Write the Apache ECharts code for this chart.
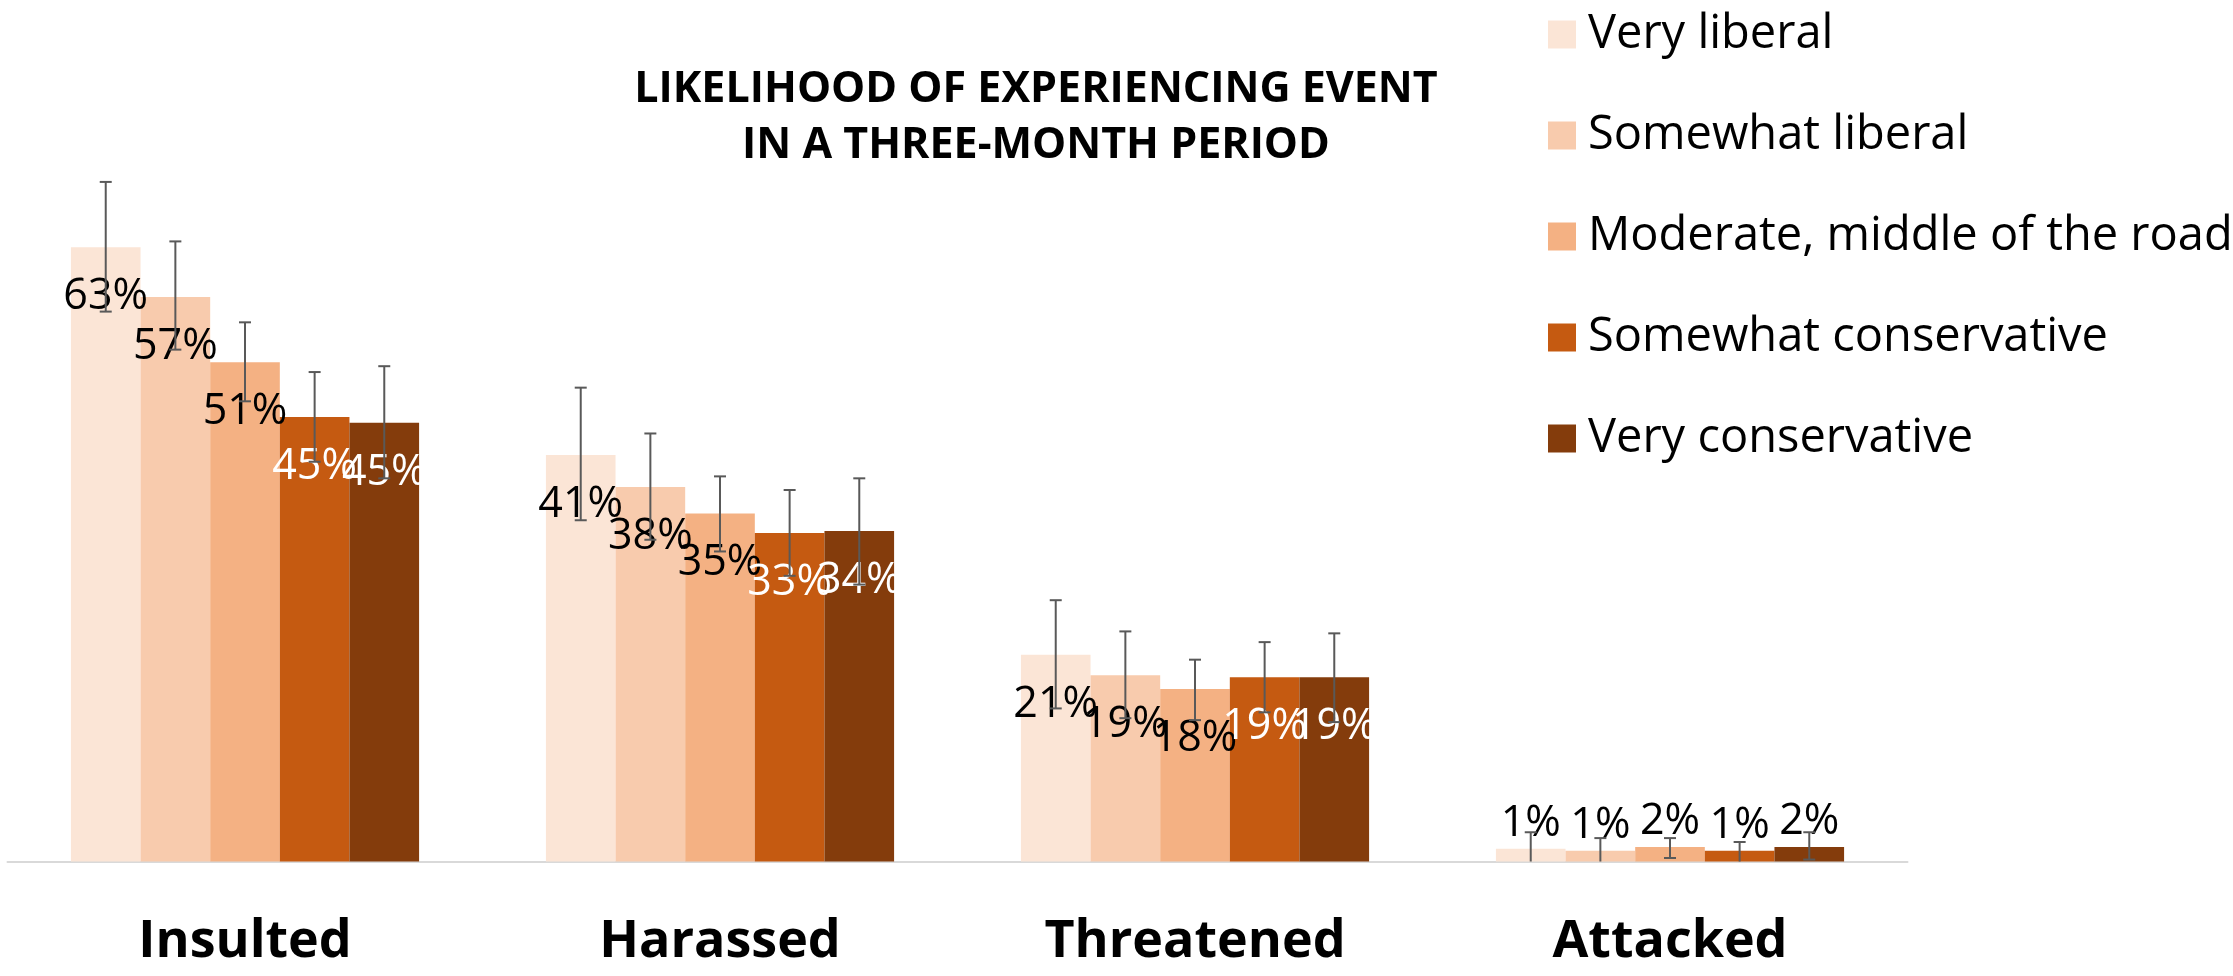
<!DOCTYPE html>
<html>
<head>
<meta charset="utf-8">
<script src="https://cdn.jsdelivr.net/npm/echarts@6/dist/echarts.min.js"></script>
<style>
  html, body { margin: 0; padding: 0; background: #fff; }
  #chart { width: 2233px; height: 976px; }
</style>
</head>
<body>
<div id="chart"></div>
<script>
  // categories and series
  var categories = ['Insulted', 'Harassed', 'Threatened', 'Attacked']
  var seriesNames = ['Very liberal', 'Somewhat liberal', 'Moderate, middle of the road', 'Somewhat conservative', 'Very conservative']
  var colors = ['#FBE5D6', '#F8CBAD', '#F4B183', '#C55A11', '#843C0C']

  // bar heights (%)
  var veryLiberal = [63.0, 41.7, 21.2, 1.3]
  var somewhatLiberal = [57.9, 38.4, 19.1, 1.1]
  var moderate = [51.2, 35.7, 17.7, 1.5]
  var somewhatConservative = [45.6, 33.7, 18.9, 1.1]
  var veryConservative = [45.0, 33.9, 18.9, 1.5]

  // printed labels (%)
  var labelVeryLiberal = [63, 41, 21, 1]
  var labelSomewhatLiberal = [57, 38, 19, 1]
  var labelModerate = [51, 35, 18, 2]
  var labelSomewhatConservative = [45, 33, 19, 1]
  var labelVeryConservative = [45, 34, 19, 2]

  // error bar ends (%)
  var lowVeryLiberal = [56.4, 35.0, 15.7, -0.4]
  var highVeryLiberal = [69.7, 48.6, 26.8, 3.0]
  var lowSomewhatLiberal = [52.5, 33.0, 14.7, -0.2]
  var highSomewhatLiberal = [63.6, 43.9, 23.6, 2.4]
  var lowModerate = [47.2, 31.8, 14.5, 0.36]
  var highModerate = [55.3, 39.5, 20.7, 2.4]
  var lowSomewhatConservative = [41.0, 29.3, 15.3, -0.1]
  var highSomewhatConservative = [50.2, 38.1, 22.5, 2.0]
  var lowVeryConservative = [39.3, 28.4, 14.3, 0.2]
  var highVeryConservative = [50.8, 39.3, 23.4, 3.0]

  var values = [veryLiberal, somewhatLiberal, moderate, somewhatConservative, veryConservative]
  var labels = [labelVeryLiberal, labelSomewhatLiberal, labelModerate, labelSomewhatConservative, labelVeryConservative]
  var lows = [lowVeryLiberal, lowSomewhatLiberal, lowModerate, lowSomewhatConservative, lowVeryConservative]
  var highs = [highVeryLiberal, highSomewhatLiberal, highModerate, highSomewhatConservative, highVeryConservative]

  var gapPct = 0.267
  var font = '"Open Sans", "Noto Sans", sans-serif'

  var chart = echarts.init(document.getElementById('chart'))

  var series = []
  seriesNames.forEach(function (name, s) {
    series.push({
      name: name,
      type: 'bar',
      barGap: '0%',
      barCategoryGap: (gapPct * 100) + '%',
      itemStyle: {color: colors[s]},
      z: 2,
      data: values[s].map(function (v, i) {
        var small = v < 5
        return {
          value: v,
          label: {
            show: true,
            position: small ? 'top' : 'insideTop',
            distance: small ? 4 : 28,
            formatter: labels[s][i] + '%',
            color: (s >= 3 && !small) ? '#fff' : '#000',
            fontFamily: font,
            fontSize: 43,
            lineHeight: 43
          }
        }
      })
    })
  })

  // error bars
  var errData = []
  seriesNames.forEach(function (name, s) {
    categories.forEach(function (c, i) {
      errData.push([i, lows[s][i], highs[s][i], s])
    })
  })
  series.push({
    type: 'custom',
    name: 'error',
    z: 5,
    silent: true,
    data: errData,
    encode: {x: 0, y: [1, 2]},
    renderItem: function (params, api) {
      var cat = api.value(0)
      var s = api.value(3)
      var band = api.size([1, 0])[0]
      var bw = band * (1 - gapPct) / 5
      var x = api.coord([cat, 0])[0] + (s - 2) * bw
      var low = api.value(1)
      var high = api.value(2)
      var yHigh = api.coord([cat, high])[1]
      var yLow = api.coord([cat, Math.max(low, 0)])[1]
      var st = {stroke: '#595959', lineWidth: 2}
      var kids = [
        {type: 'line', shape: {x1: x, y1: yHigh, x2: x, y2: yLow}, style: st},
        {type: 'line', shape: {x1: x - 6, y1: yHigh, x2: x + 6, y2: yHigh}, style: st}
      ]
      if (low > 0) {
        kids.push({type: 'line', shape: {x1: x - 6, y1: yLow, x2: x + 6, y2: yLow}, style: st})
      }
      return {type: 'group', children: kids}
    }
  })

  chart.setOption({
    animation: false,
    backgroundColor: '#fff',
    graphic: [{
      type: 'text',
      x: 1036,
      y: 62,
      style: {
        text: 'LIKELIHOOD OF EXPERIENCING EVENT\nIN A THREE-MONTH PERIOD',
        align: 'center',
        verticalAlign: 'top',
        font: 'bold 43px ' + font,
        lineHeight: 56,
        fill: '#000'
      }
    }],
    legend: {
      data: seriesNames,
      orient: 'vertical',
      left: 1543,
      top: 6,
      icon: 'rect',
      itemWidth: 28,
      itemHeight: 28,
      itemGap: 54,
      textStyle: {
        fontFamily: font,
        fontSize: 47,
        lineHeight: 46,
        color: '#000',
        padding: [0, 0, 0, 7]
      }
    },
    grid: {
      left: 7.5,
      width: 1900,
      top: 179,
      bottom: 114.5,
      containLabel: false
    },
    xAxis: {
      type: 'category',
      data: categories,
      axisTick: {show: false},
      axisLine: {lineStyle: {color: '#D9D9D9', width: 2}},
      axisLabel: {
        margin: 55,
        fontFamily: font,
        fontWeight: 'bold',
        fontSize: 52,
        lineHeight: 52,
        color: '#000'
      }
    },
    yAxis: {
      type: 'value',
      min: 0,
      max: 70,
      show: false,
      splitLine: {show: false}
    },
    series: series
  })
</script>
</body>
</html>
